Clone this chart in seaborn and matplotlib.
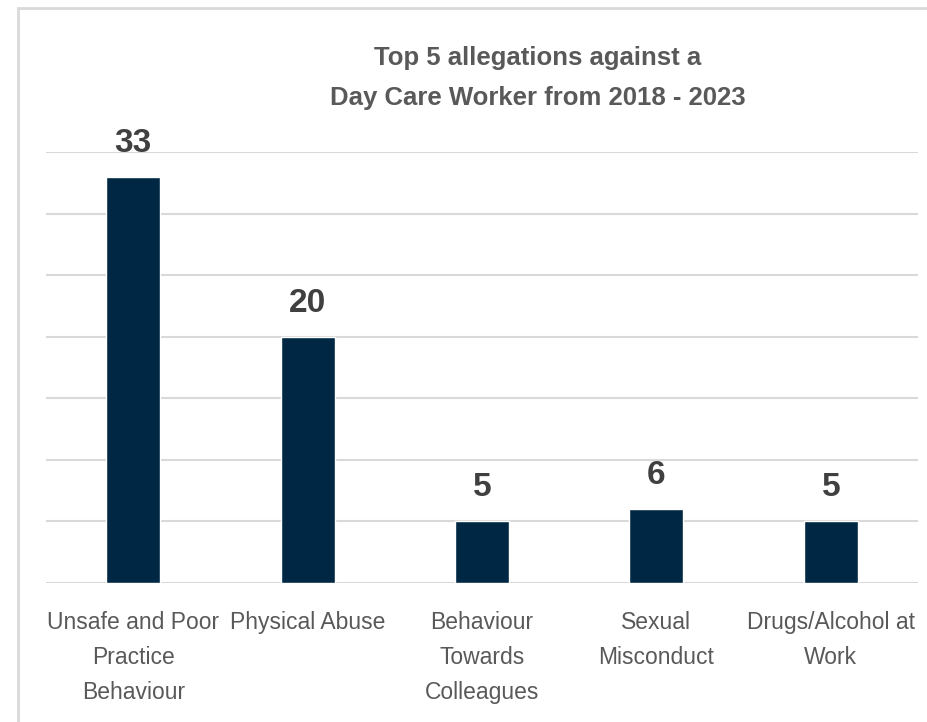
import matplotlib
matplotlib.use("Agg")
import matplotlib.pyplot as plt
import seaborn as sns
import pandas as pd
from matplotlib.patches import Rectangle

categories = ["Unsafe and Poor\nPractice\nBehaviour", "Physical Abuse",
              "Behaviour\nTowards\nColleagues", "Sexual\nMisconduct",
              "Drugs/Alcohol at\nWork"]
values = [33, 20, 5, 6, 5]
title = "Top 5 allegations against a\nDay Care Worker from 2018 - 2023"

sns.set_theme(style="white")
FONT = ["Liberation Sans Narrow", "Liberation Sans", "DejaVu Sans"]
plt.rcParams["font.family"] = FONT

df = pd.DataFrame({"cat": categories, "val": values})

fig = plt.figure(figsize=(9.28, 7.22), dpi=100)
fig.patch.set_facecolor("white")
fig.add_artist(Rectangle((18/928, -0.05), 2.0, 1.05 - 8/722, transform=fig.transFigure,
                         fill=False, edgecolor="#d9d9d9", linewidth=2))
ax = fig.add_axes([46/928, 139/722, 872/928, 431/722])

sns.barplot(data=df, x="cat", y="val", color="#002845", width=0.31,
            saturation=1, ax=ax, zorder=3)

ax.set_ylim(0, 35)
ax.set_yticks(range(0, 36, 5))
ax.yaxis.grid(True, color="#d9d9d9", linewidth=1.5, zorder=0)
ax.set_axisbelow(True)
ax.tick_params(axis="y", left=False, labelleft=False)
ax.tick_params(axis="x", bottom=False, pad=14, labelsize=16.5, labelcolor="#595959")
for lab in ax.get_xticklabels():
    lab.set_linespacing(1.67)
ax.set_xlabel("")
ax.set_ylabel("")
for s in ax.spines.values():
    s.set_visible(False)

for c in ax.containers:
    ax.bar_label(c, padding=13, fontsize=24, fontweight="bold", color="#404040")

fig.text(538/928, 1 - 78/722, title, ha="center", va="center", fontsize=18.5,
         fontweight="bold", color="#595959", linespacing=1.8)

fig.savefig("out.png", dpi=100)
